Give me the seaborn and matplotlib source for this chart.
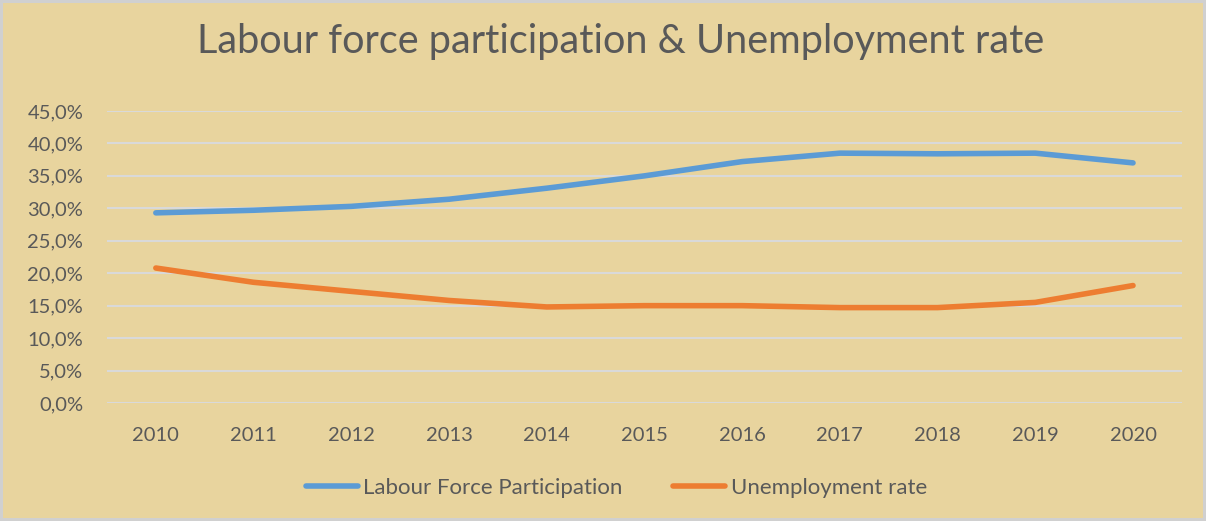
import pandas as pd
import numpy as np
import matplotlib
matplotlib.use("Agg")
import matplotlib.pyplot as plt
import seaborn as sns

# 1. the data
years = [2010, 2011, 2012, 2013, 2014, 2015, 2016, 2017, 2018, 2019, 2020]
labour_force = [29.3, 29.7, 30.3, 31.4, 33.1, 35.0, 37.2, 38.5, 38.4, 38.5, 37.0]
unemployment = [20.8, 18.6, 17.2, 15.8, 14.8, 15.0, 15.0, 14.7, 14.7, 15.5, 18.1]
series_names = ["Labour Force Participation", "Unemployment rate"]
y_ticks = [0, 5, 10, 15, 20, 25, 30, 35, 40, 45]

df = pd.DataFrame({"Year": years * 2,
                   "Value": labour_force + unemployment,
                   "Series": [series_names[0]] * len(years) + [series_names[1]] * len(years)})

# 2. style
sns.set_style("white")
plt.rcParams["font.family"] = ["Lato", "DejaVu Sans"]
text_col = "#595959"
bg_col = "#E8D49E"
palette = {series_names[0]: "#5B9BD5", series_names[1]: "#ED7D31"}

fig = plt.figure(figsize=(12.06, 5.21), dpi=100)
fig.patch.set_facecolor(bg_col)
fig.patch.set_edgecolor("#D0D0D0")
fig.patch.set_linewidth(4)
ax = fig.add_axes([0.0887, 0.2265, 0.8913, 0.5605])
ax.set_facecolor("none")

# 3. gridlines
for t in y_ticks:
    ax.axhline(t, color="#D9D9D9", lw=1.5, zorder=0)

# 4. the lines
sns.lineplot(data=df, x="Year", y="Value", hue="Series", palette=palette,
             linewidth=4, ax=ax, legend=False, solid_capstyle="round")

ax.set_xlim(2009.5, 2020.5)
ax.set_ylim(0, 45)
ax.set_xticks(years)
ax.set_xticklabels([str(y) for y in years])
ax.set_yticks(y_ticks)
ax.set_yticklabels([f"{t:.1f}%".replace(".", ",") for t in y_ticks])
ax.tick_params(axis="x", length=0, pad=17, labelsize=14.5, colors=text_col)
ax.tick_params(axis="y", length=0, pad=17, labelsize=14.5, colors=text_col)
ax.set_xlabel("")
ax.set_ylabel("")
for s in ax.spines.values():
    s.set_visible(False)

# 5. title and legend
fig.text(0.515, 0.92, "Labour force participation & Unemployment rate",
         ha="center", va="center", fontsize=28.5, color=text_col)

handles = [plt.Line2D([0], [0], color=palette[n], lw=4, solid_capstyle="round") for n in series_names]
leg = fig.legend(handles, series_names, loc="center", bbox_to_anchor=(0.511, 0.063), ncol=2,
                 frameon=False, fontsize=16, handlelength=2.35, handletextpad=0.25, columnspacing=2.25)
for t in leg.get_texts():
    t.set_color(text_col)

plt.savefig("out.png", dpi=100, facecolor=fig.get_facecolor(), edgecolor=fig.get_edgecolor())
